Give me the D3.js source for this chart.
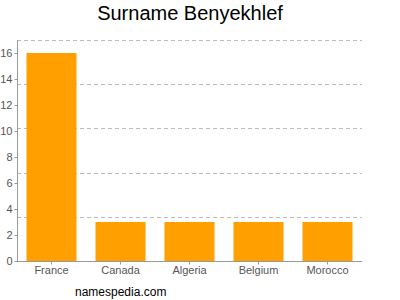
<!DOCTYPE html>
<html>
<head>
<meta charset="utf-8">
<script src="https://cdn.jsdelivr.net/npm/d3@7"></script>
<style>
  body { margin: 0; background: #fff; }
  svg { font-family: "Liberation Sans", Arial, sans-serif; }
</style>
</head>
<body>
<div id="chart"></div>
<script>
const countries = ['France', 'Canada', 'Algeria', 'Belgium', 'Morocco'];
const counts = [16, 3, 3, 3, 3];
const yTicks = [0, 2, 4, 6, 8, 10, 12, 14, 16];
const gridLevels = [3.4, 6.8, 10.2, 13.6, 17];

const width = 400;
const height = 300;
const plotLeft = 17, plotRight = 362, plotTop = 40, plotBottom = 261;

const svg = d3.select('#chart').append('svg').attr('width', width).attr('height', height);

const x = d3.scaleBand().domain(countries).range([plotLeft, plotRight]).paddingInner(0.275).paddingOuter(0.1375);
const y = d3.scaleLinear().domain([0, 17]).range([plotBottom, plotTop]);

// dashed grid
svg.append('g').selectAll('line').data(gridLevels).enter().append('line')
  .attr('x1', plotLeft).attr('x2', plotRight)
  .attr('y1', d => Math.round(y(d)) + 0.5).attr('y2', d => Math.round(y(d)) + 0.5)
  .style('stroke', '#bbb').style('stroke-dasharray', '4,3').style('stroke-width', 1);

// bars
svg.append('g').selectAll('rect').data(countries).enter().append('rect')
  .attr('x', d => x(d)).attr('width', x.bandwidth())
  .attr('y', (d, i) => y(counts[i])).attr('height', (d, i) => plotBottom - y(counts[i]))
  .style('fill', '#ffa000');

// axes
const yAxis = d3.axisLeft(y).tickValues(yTicks).tickSize(3).tickPadding(2);
const gy = svg.append('g').attr('transform', 'translate(' + (plotLeft + 0.5) + ',0)').call(yAxis);
gy.select('.domain').attr('d', 'M0,' + plotTop + 'V' + plotBottom).style('stroke', '#999');
gy.selectAll('.tick line').style('stroke', '#999');
gy.selectAll('.tick text').style('fill', '#555').style('font-size', '11px');

const xAxis = d3.axisBottom(x).tickSize(3).tickPadding(2);
const gx = svg.append('g').attr('transform', 'translate(0,' + (plotBottom + 0.5) + ')').call(xAxis);
gx.select('.domain').attr('d', 'M' + plotLeft + ',0H' + plotRight).style('stroke', '#999');
gx.selectAll('.tick line').style('stroke', '#999');
gx.selectAll('.tick text').style('fill', '#555').style('font-size', '11px');

// title and footer
svg.append('text').attr('x', 190).attr('y', 20).attr('text-anchor', 'middle')
  .style('font-size', '20px').style('fill', '#000').text('Surname Benyekhlef');
svg.append('text').attr('x', 75).attr('y', 296)
  .style('font-size', '12px').style('fill', '#000').text('namespedia.com');
</script>
</body>
</html>
